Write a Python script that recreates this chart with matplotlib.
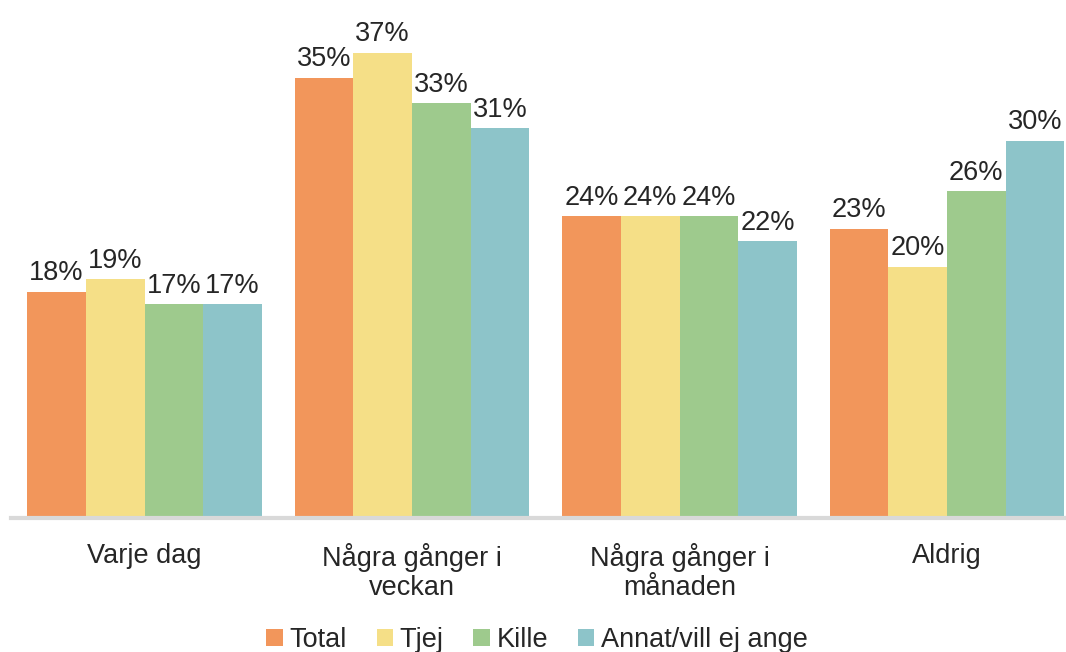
import matplotlib
matplotlib.use("Agg")
import matplotlib.pyplot as plt
import numpy as np

categories = ["Varje dag", "Några gånger i\nveckan", "Några gånger i\nmånaden", "Aldrig"]
series_names = ["Total", "Tjej", "Kille", "Annat/vill ej ange"]
total = [18, 35, 24, 23]
tjej = [19, 37, 24, 20]
kille = [17, 33, 24, 26]
annat = [17, 31, 22, 30]
colors = ["#F2965B", "#F5DF87", "#9ECA8D", "#8DC4C9"]

plt.rcParams["font.family"] = ["Liberation Sans", "DejaVu Sans"]
text_color = "#262626"

W, H = 1066, 652
fig = plt.figure(figsize=(W / 100, H / 100), dpi=100)
group_w = 267.5
left_px = 144.5 - group_w / 2
bottom_px = 518
px_per_pct = 12.57
ymax = 40
ax = fig.add_axes([left_px / W, (H - bottom_px) / H,
                   group_w * 4 / W, ymax * px_per_pct / H])

x = np.arange(len(categories))
n = len(series_names)
bar_w = 0.878 / n
values = [total, tjej, kille, annat]
for i, (name, vals, c) in enumerate(zip(series_names, values, colors)):
    pos = x - 0.439 + bar_w * (i + 0.5)
    bars = ax.bar(pos, vals, width=bar_w, color=c, label=name, linewidth=0)
    for b, v in zip(bars, vals):
        ax.text(b.get_x() + b.get_width() / 2, v + 0.45, f"{v}%",
                ha="center", va="bottom", fontsize=19.5, color=text_color)

ax.set_xlim(-0.5, len(categories) - 0.5)
ax.set_ylim(0, ymax)
ax.set_yticks([])
ax.set_xticks(x)
ax.set_xticklabels(categories, fontsize=19.5, color=text_color, linespacing=1.15)
ax.tick_params(axis="x", length=0, pad=18)
for s in ["top", "right", "left"]:
    ax.spines[s].set_visible(False)
ax.spines["bottom"].set_color("#D9D9D9")
ax.spines["bottom"].set_linewidth(3)

fig.legend(loc="center", bbox_to_anchor=(537 / W, 1 - 640 / H), ncol=4,
           frameon=False, fontsize=19.5, handlelength=0.6, handleheight=0.6,
           handletextpad=0.25, columnspacing=1.1, labelcolor=text_color)

fig.savefig("out.png", dpi=100)
